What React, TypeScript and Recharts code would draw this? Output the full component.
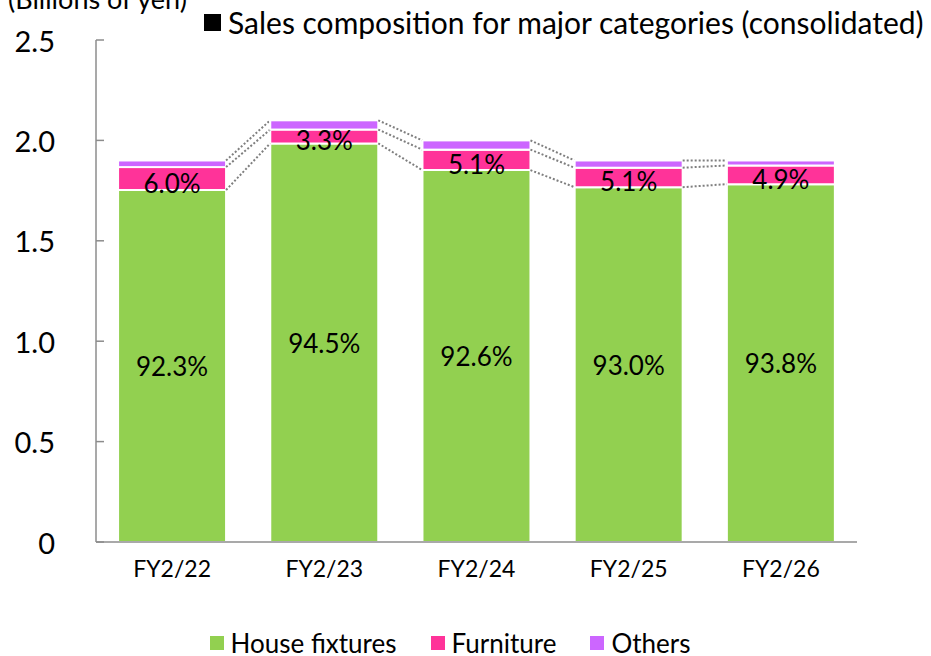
import React from 'react';
import { BarChart, Bar, XAxis, YAxis, Legend, LabelList } from 'recharts';

const categories = ['FY2/22', 'FY2/23', 'FY2/24', 'FY2/25', 'FY2/26'];
const houseFixtures = [1.753, 1.985, 1.852, 1.767, 1.782];
const furniture = [0.114, 0.069, 0.102, 0.097, 0.093];
const others = [0.033, 0.046, 0.046, 0.036, 0.025];
const houseShare = ['92.3%', '94.5%', '92.6%', '93.0%', '93.8%'];
const furnitureShare = ['6.0%', '3.3%', '5.1%', '5.1%', '4.9%'];
const yTicks = [0, 0.5, 1.0, 1.5, 2.0, 2.5];

const FONT = 'Lato, "Open Sans", sans-serif';
const GREEN = '#92d050';
const PINK = '#ff3399';
const PURPLE = '#cc66ff';
const AXIS = '#8c8c8c';
const GAP = 0.145;

const data = categories.map((name, i) => ({
  name,
  house: houseFixtures[i],
  furniture: furniture[i],
  others: others[i],
  houseShare: houseShare[i],
  furnitureShare: furnitureShare[i],
}));

const legendItems = [
  { label: 'House fixtures', color: GREEN },
  { label: 'Furniture', color: PINK },
  { label: 'Others', color: PURPLE },
];

const YTick = ({ x, y, payload }: any) => (
  <g>
    <text x={x} y={y} textAnchor="end" dominantBaseline="central" fontSize={29} fill="#000" fontFamily={FONT}>
      {payload.value === 0 ? '0' : payload.value.toFixed(1)}
    </text>
    <line x1={x + 41} x2={x + 49} y1={y} y2={y} stroke={AXIS} strokeWidth={1.5} />
  </g>
);

// top segment also draws the dotted connectors to the next bar
const OthersShape = (props: any) => {
  const { x, y, width, height, payload, index } = props;
  const next = data[index + 1];
  const k = height / payload.others;
  const base = y + height + k * (payload.house + payload.furniture);
  const px = (v: number) => base - k * v;
  const levels = (d: any) => [d.house, d.house + d.furniture, d.house + d.furniture + d.others];
  const x1 = x + width;
  const x2 = x + width / (1 - 2 * GAP);
  return (
    <g>
      <rect x={x} y={y} width={width} height={height} fill={PURPLE} stroke="#fff" strokeWidth={2} />
      {next &&
        levels(payload).map((v, i) => (
          <line
            key={i}
            x1={x1}
            y1={px(v)}
            x2={x2}
            y2={px(levels(next)[i])}
            stroke="#7f7f7f"
            strokeWidth={2}
            strokeDasharray="2 2"
          />
        ))}
    </g>
  );
};

const ShareLabel = ({ x, y, width, height, value, dy = 0 }: any) => (
  <text
    x={x + width / 2}
    y={y + height / 2 + dy}
    textAnchor="middle"
    dominantBaseline="central"
    fontSize={26}
    fill="#000"
    fontFamily={FONT}
  >
    {value}
  </text>
);

const LegendContent = () => (
  <div style={{ display: 'flex', justifyContent: 'center', height: 26, fontSize: 26, fontFamily: FONT, lineHeight: '26px' }}>
    {legendItems.map((it) => (
      <div key={it.label} style={{ display: 'flex', alignItems: 'center', margin: '0 17px' }}>
        <span style={{ width: 14, height: 14, background: it.color, marginRight: 7, display: 'inline-block' }} />
        <span>{it.label}</span>
      </div>
    ))}
  </div>
);

export default function App() {
  return (
    <div style={{ position: 'absolute', left: 0, top: 0, width: 931, height: 656, overflow: 'hidden', background: '#fff', fontFamily: FONT }}>
      <div style={{ position: 'absolute', left: 8, top: -18, fontSize: 27, whiteSpace: 'nowrap' }}>(Billions of yen)</div>
      <div style={{ position: 'absolute', left: 204, top: 4, fontSize: 30, whiteSpace: 'nowrap', display: 'flex', alignItems: 'center' }}>
        <span style={{ width: 17, height: 17, background: '#000', display: 'inline-block', marginRight: 7 }} />
        <span>Sales composition for major categories (consolidated)</span>
      </div>
      <BarChart
        width={931}
        height={656}
        data={data}
        margin={{ top: 40, right: 74, left: 0, bottom: 0 }}
        barCategoryGap={`${GAP * 100}%`}
      >
        <YAxis
          width={96}
          domain={[0, 2.5]}
          ticks={yTicks}
          tick={<YTick />}
          tickSize={0}
          tickMargin={41}
          tickLine={false}
          axisLine={{ stroke: AXIS, strokeWidth: 1.5 }}
        />
        <XAxis
          dataKey="name"
          height={88}
          tickLine={false}
          tickSize={0}
          tickMargin={19}
          tick={{ fontSize: 23, fill: '#000', fontFamily: FONT }}
          axisLine={{ stroke: AXIS, strokeWidth: 1.5 }}
        />
        <Legend verticalAlign="bottom" wrapperStyle={{ left: 0, width: 900 }} content={<LegendContent />} />
        <Bar dataKey="house" stackId="a" fill={GREEN} stroke="#fff" strokeWidth={2} isAnimationActive={false}>
          <LabelList dataKey="houseShare" content={<ShareLabel />} />
        </Bar>
        <Bar dataKey="furniture" stackId="a" fill={PINK} stroke="#fff" strokeWidth={2} isAnimationActive={false}>
          <LabelList dataKey="furnitureShare" content={<ShareLabel dy={4} />} />
        </Bar>
        <Bar dataKey="others" stackId="a" fill={PURPLE} shape={<OthersShape />} isAnimationActive={false} />
      </BarChart>
    </div>
  );
}
